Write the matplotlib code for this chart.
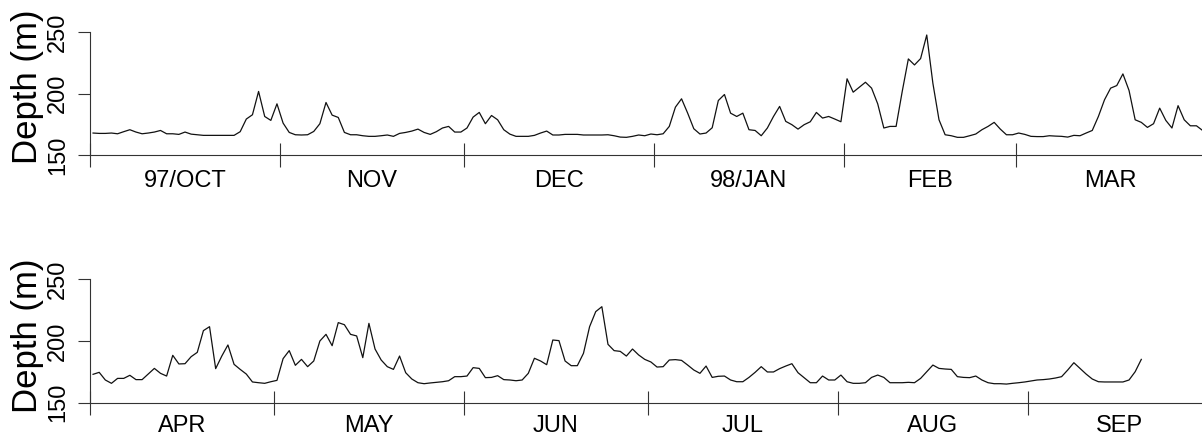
import numpy as np
import matplotlib
matplotlib.use("Agg")
import matplotlib.pyplot as plt

plt.rcParams['font.family'] = ['Liberation Sans', 'DejaVu Sans']

# daily mean depth (m), 1 Oct 1997 - 31 Mar 1998
depth_oct_mar = [
    167.9, 167.6, 167.6, 167.9, 167.3, 169.0, 170.6, 168.7, 167.3, 167.9,
    168.7, 170.0, 167.3, 167.3, 166.8, 168.7, 167.0, 166.5, 166.0, 166.0,
    166.0, 166.0, 166.0, 166.0, 169.0, 179.3, 182.8, 201.8, 181.4, 178.2,
    191.7, 176.0, 168.4, 166.5, 166.3, 166.5, 169.2, 175.5, 192.8, 182.5,
    180.6, 168.4, 166.5, 166.5, 165.7, 165.2, 165.2, 165.7, 166.3, 165.2,
    167.6, 168.4, 169.5, 171.1, 168.4, 166.8, 169.0, 172.0, 173.3, 168.7,
    168.7, 172.0, 180.9, 184.7, 175.5, 182.2, 178.7, 170.6, 167.0, 165.2,
    165.2, 165.2, 166.0, 167.9, 169.5, 166.3, 166.3, 166.8, 166.8, 166.8,
    166.3, 166.3, 166.3, 166.3, 166.5, 165.7, 164.6, 164.4, 165.2, 166.3,
    165.7, 167.1, 166.5, 167.3, 173.3, 189.0, 195.8, 184.1, 171.4, 167.1,
    167.9, 172.2, 194.4, 199.3, 184.1, 181.4, 184.1, 170.6, 170.0, 165.7,
    172.0, 181.4, 189.6, 177.4, 174.7, 171.1, 174.7, 177.1, 184.7, 180.1,
    181.4, 179.3, 177.1, 212.1, 201.2, 205.3, 209.3, 204.5, 191.7, 172.0,
    173.3, 173.3, 201.8, 228.3, 223.4, 228.6, 247.8, 208.5, 178.7, 166.5,
    165.7, 164.4, 164.4, 165.7, 167.1, 170.6, 173.3, 176.6, 171.1, 166.5,
    166.5, 167.9, 166.8, 165.2, 165.0, 165.0, 165.7, 165.4, 165.2, 164.6,
    166.0, 165.7, 167.9, 170.0, 181.4, 195.0, 204.5, 206.6, 216.1, 202.6,
    178.7, 176.6, 172.5, 175.5, 188.2, 178.2, 172.0, 190.2, 178.7, 173.8,
    173.8, 170.0,
]

# daily mean depth (m), 1 Apr 1998 - 20 Sep 1998
depth_apr_sep = [
    173.0, 174.6, 168.4, 165.7, 169.7, 169.7, 172.2, 168.7, 168.7, 173.2,
    177.8, 173.8, 171.6, 188.4, 181.4, 181.6, 187.3, 190.8, 208.4, 211.6,
    177.6, 187.8, 196.8, 181.1, 177.0, 173.2, 166.8, 166.2, 165.7, 167.0,
    168.1, 185.7, 192.2, 180.3, 185.1, 179.2, 183.8, 200.0, 205.4, 196.2,
    214.9, 213.2, 205.4, 204.1, 186.5, 214.3, 193.5, 184.6, 179.2, 177.0,
    187.8, 174.3, 169.2, 166.2, 165.4, 166.0, 166.5, 167.0, 167.8, 171.1,
    171.1, 171.6, 178.4, 177.8, 170.3, 170.5, 171.9, 168.7, 168.4, 167.8,
    168.4, 173.8, 186.0, 183.8, 180.8, 200.8, 200.3, 183.8, 180.0, 180.0,
    190.0, 211.6, 223.8, 227.8, 197.3, 192.2, 191.6, 187.8, 193.5, 188.7,
    185.1, 183.0, 178.9, 179.2, 184.6, 184.9, 184.3, 180.5, 176.5, 173.8,
    179.7, 170.5, 171.4, 171.6, 168.4, 167.0, 167.0, 170.5, 174.6, 179.2,
    174.9, 174.9, 177.6, 179.7, 181.6, 174.3, 170.3, 166.2, 166.2, 171.6,
    168.4, 168.4, 172.4, 167.0, 165.7, 165.7, 166.2, 170.5, 172.4, 170.5,
    166.2, 166.2, 166.2, 166.5, 166.2, 169.7, 175.1, 180.5, 177.8, 177.3,
    177.0, 171.1, 170.5, 170.3, 171.6, 168.4, 166.2, 165.4, 165.4, 165.1,
    165.7, 166.2, 166.8, 167.6, 168.4, 168.7, 169.2, 170.0, 171.1, 176.5,
    182.4, 177.8, 173.2, 169.2, 167.0, 166.8, 166.8, 166.8, 166.8, 168.4,
    175.1, 185.1,
]

months_1 = ['97/OCT', 'NOV', 'DEC', '98/JAN', 'FEB', 'MAR']
days_1 = [31, 30, 31, 31, 28, 31]
months_2 = ['APR', 'MAY', 'JUN', 'JUL', 'AUG', 'SEP']
days_2 = [30, 31, 30, 31, 31, 30]
depth_ticks = [150, 200, 250]

W, H = 1202, 434
px_per_day = 6.13
xmax = (W - 90) / px_per_day


def panel(ax, depth, months, ndays, label_pad):
    x = np.arange(len(depth)) + 0.5
    ax.plot(x, depth, color='#111111', lw=0.9)
    ax.set_xlim(0, xmax)
    ax.set_ylim(150, 250)
    for s in ['top', 'right']:
        ax.spines[s].set_visible(False)
    for s in ['left', 'bottom']:
        ax.spines[s].set_color('#333333')
        ax.spines[s].set_linewidth(0.8)

    starts = np.concatenate([[0], np.cumsum(ndays)[:-1]])
    mids = starts + np.array(ndays) / 2.0
    ax.set_xticks(starts)
    ax.set_xticklabels([])
    ax.set_xticks(mids, minor=True)
    ax.set_xticklabels(months, minor=True)
    ax.tick_params(axis='x', which='major', direction='inout', length=17.3,
                   width=0.8, color='#333333')
    ax.tick_params(axis='x', which='minor', length=0, pad=label_pad,
                   labelsize=17)

    # y ticks; labels written sideways like the original
    ax.set_yticks(depth_ticks)
    ax.set_yticklabels([])
    ax.tick_params(axis='y', direction='out', length=8.6, width=0.8,
                   color='#333333')
    tr = ax.get_yaxis_transform()
    for v in depth_ticks:
        ax.text(-32 / (W - 90), v, str(v), transform=tr, rotation=90,
                ha='center', va='center', fontsize=17)


fig = plt.figure(figsize=(W / 100, H / 100), dpi=100)
ax1 = fig.add_axes([90 / W, (H - 155) / H, (W - 90) / W, 122.7 / H])
ax2 = fig.add_axes([90 / W, (H - 402.7) / H, (W - 90) / W, 123.4 / H])

panel(ax1, depth_oct_mar, months_1, days_1, 11)
panel(ax2, depth_apr_sep, months_2, days_2, 8.8)

fig.text(27 / W, 1 - 87 / H, 'Depth (m)', rotation=90, ha='center',
         va='center', fontsize=25)
fig.text(27 / W, 1 - 336 / H, 'Depth (m)', rotation=90, ha='center',
         va='center', fontsize=25)

fig.savefig('out.png', dpi=100)
